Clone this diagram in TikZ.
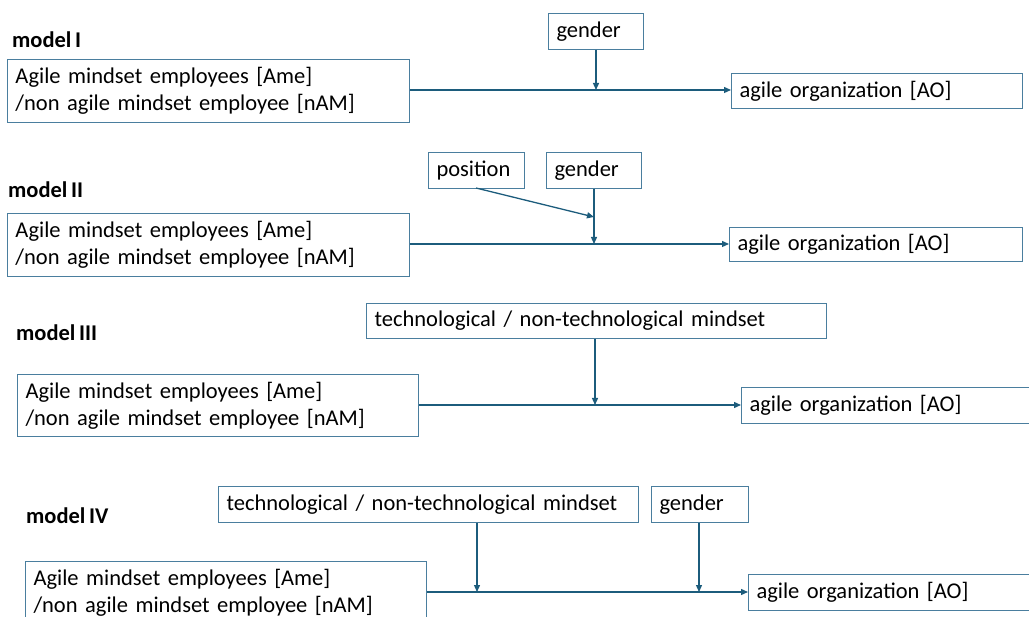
\documentclass[tikz,border=0pt]{standalone}
\usepackage{fontspec}
\setmainfont{Carlito}[WordSpace=0.7]
\usetikzlibrary{arrows.meta}
\definecolor{boxc}{RGB}{74,126,158}
\definecolor{linec}{RGB}{28,92,124}
\tikzset{
  box/.style={draw=boxc, line width=1pt, anchor=north west, inner xsep=8pt, inner ysep=0pt, align=left, font=\fontsize{22.5}{27}\selectfont},
  lbl/.style={anchor=west, font=\fontsize{22.5}{26}\selectfont\bfseries, inner sep=0pt},
  conn/.style={draw=linec, line width=1.3pt, -{Triangle[length=7pt,width=6pt]}},
}
\newcommand{\bx}[6]{% name, x, y, w, h, text
  \node[box, minimum width=#4pt, minimum height=#5pt, text width=#4pt-16pt] (#1) at (#2,#3) {#6};}
\begin{document}
\begin{tikzpicture}[x=1pt,y=-1pt]
\useasboundingbox (0,0) rectangle (1029,617);
\clip (0,0) rectangle (1029,617);
% model I
\node[lbl] (l1) at (12,40) {model I};
\bx{s1}{7}{59}{402}{63}{Agile mindset employees [Ame]\\/non agile mindset employee [nAM]}
\bx{g1}{548}{13}{95}{36}{gender}
\bx{a1}{731}{73}{291}{35}{agile organization [AO]}
\coordinate (m1) at (596,90);
\draw[conn] (s1.east |- m1) -- (a1.west |- m1);
\draw[conn] (g1.south -| m1) -- (m1);
% model II
\node[lbl] (l2) at (8,190) {model II};
\bx{s2}{7}{213}{402}{63}{Agile mindset employees [Ame]\\/non agile mindset employee [nAM]}
\bx{p2}{428}{152}{96}{36}{position}
\bx{g2}{546}{152}{95}{36}{gender}
\bx{a2}{729}{227}{293}{34}{agile organization [AO]}
\coordinate (m2) at (594,244);
\coordinate (q2) at (594,217);
\coordinate (pp2) at (476,188);
\draw[conn] (s2.east |- m2) -- (a2.west |- m2);
\draw[conn] (g2.south -| m2) -- (m2);
\draw[conn] (pp2) -- (q2);
% model III
\node[lbl] (l3) at (16,333) {model III};
\bx{t3}{366}{303}{460}{35}{technological / non-technological mindset}
\bx{s3}{17}{374}{401}{62}{Agile mindset employees [Ame]\\/non agile mindset employee [nAM]}
\bx{a3}{741}{387}{300}{36}{agile organization [AO]}
\coordinate (m3) at (595,405);
\draw[conn] (s3.east |- m3) -- (a3.west |- m3);
\draw[conn] (t3.south -| m3) -- (m3);
% model IV
\node[lbl] (l4) at (26,516) {model IV};
\bx{t4}{218}{486}{420}{36}{technological / non-technological mindset}
\bx{g4}{651}{486}{97}{36}{gender}
\bx{s4}{25}{561}{401}{63}{Agile mindset employees [Ame]\\/non agile mindset employee [nAM]}
\bx{a4}{748}{574}{300}{36}{agile organization [AO]}
\coordinate (m4a) at (477,592);
\coordinate (m4b) at (699,592);
\draw[conn] (s4.east |- m4a) -- (a4.west |- m4a);
\draw[conn] (t4.south -| m4a) -- (m4a);
\draw[conn] (g4.south -| m4b) -- (m4b);
\end{tikzpicture}
\end{document}
